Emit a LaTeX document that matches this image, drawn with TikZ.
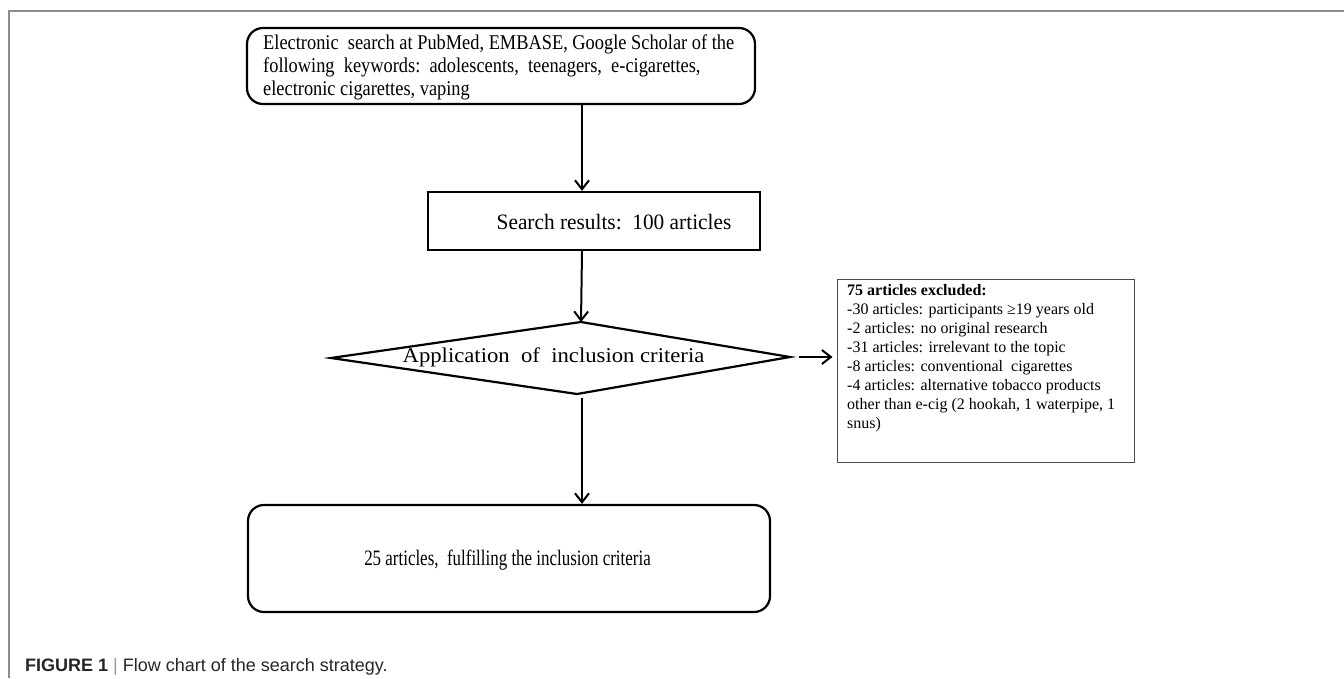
\documentclass[tikz,border=0pt]{standalone}
\usepackage{fontspec}
\usepackage{graphicx}
\setmainfont{Liberation Serif}
\newfontfamily\capfont{Liberation Sans}
\usetikzlibrary{arrows.meta}
\begin{document}
\begin{tikzpicture}[x=1pt,y=-1pt,
  boxline/.style={draw=black,line width=2.2pt},
  arr/.style={draw=black,line width=2pt,-{Straight Barb[length=9pt,width=14pt,line width=2pt]}},
  txt/.style={font=\fontsize{21}{23}\selectfont},
  bigtxt/.style={font=\fontsize{22}{26}\selectfont},
  small/.style={font=\fontsize{16}{19}\selectfont}]
\useasboundingbox (0,0) rectangle (1344,678);
% frame
\draw[color=black!45,line width=1.5pt] (9,678) -- (9,11) -- (1344,11);
% box 1
\node[boxline,rounded corners=16pt,minimum width=508pt,minimum height=76pt,inner sep=0pt] (box1) at (501,66) {};
\node[txt,anchor=west,inner sep=0pt] (t1) at (263,68) {\scalebox{0.875}[1]{\begin{tabular}{@{}l@{}}Electronic\ \ search at PubMed, EMBASE, Google Scholar of the\\following\ \ keywords:\ \ adolescents,\ \ teenagers,\ \ e-cigarettes,\\electronic cigarettes, vaping\end{tabular}}};
% box 2
\node[boxline,minimum width=332pt,minimum height=58pt,inner sep=0pt] (box2) at (594,221) {};
\node[bigtxt,inner sep=0pt] (t2) at (614,222) {\scalebox{0.97}[1]{Search results:\ \ 100 articles}};
% diamond
\coordinate (dL) at (331,358);
\coordinate (dT) at (581,322);
\coordinate (dR) at (790,357);
\coordinate (dB) at (577,394);
\draw[boxline,line join=miter] (dL) -- (dT) -- (dR) -- (dB) -- cycle;
\node[txt,inner sep=0pt] (dtext) at (553.5,357) {\scalebox{1.08}[1]{Application\ \ of\ \ inclusion criteria}};
% exclusion box
\node[draw=black!70,line width=1pt,minimum width=297pt,minimum height=183pt,inner sep=0pt] (excl) at (985.5,370.5) {};
\node[small,anchor=north west,align=left,inner sep=0pt] (etext) at (847,284) {\textbf{75 articles excluded:}\\-30 articles: participants ≥19 years old\\-2 articles: no original research\\-31 articles: irrelevant to the topic\\-8 articles: conventional\ \ cigarettes\\-4 articles: alternative tobacco products\\other than e-cig (2 hookah, 1 waterpipe, 1\\snus)};
% box 3
\node[boxline,rounded corners=16pt,minimum width=522pt,minimum height=107pt,inner sep=0pt] (box3) at (509,558.5) {};
\node[bigtxt,inner sep=0pt] (t3) at (507.5,560) {\scalebox{0.77}[1]{25 articles,\ \ fulfilling the inclusion criteria}};
% connectors
\coordinate (ax) at (582,0);
\draw[arr] (box1.south -| ax) -- (box2.north -| ax);
\draw[arr] (box2.south -| ax) -- (dT);
\draw[arr,shorten <=9pt,shorten >=4pt] (dR) -- (excl.west |- dR);
\draw[arr,shorten <=4pt] (dB -| ax) -- (box3.north -| ax);
% caption
\node[anchor=base west,inner sep=0pt,font=\capfont\fontsize{18}{22}\selectfont] (cap) at (25,671) {\textcolor{black!85}{\textbf{FIGURE 1}} \textcolor{black!40}{|} \textcolor{black!85}{Flow chart of the search strategy.}};
\end{tikzpicture}
\end{document}
